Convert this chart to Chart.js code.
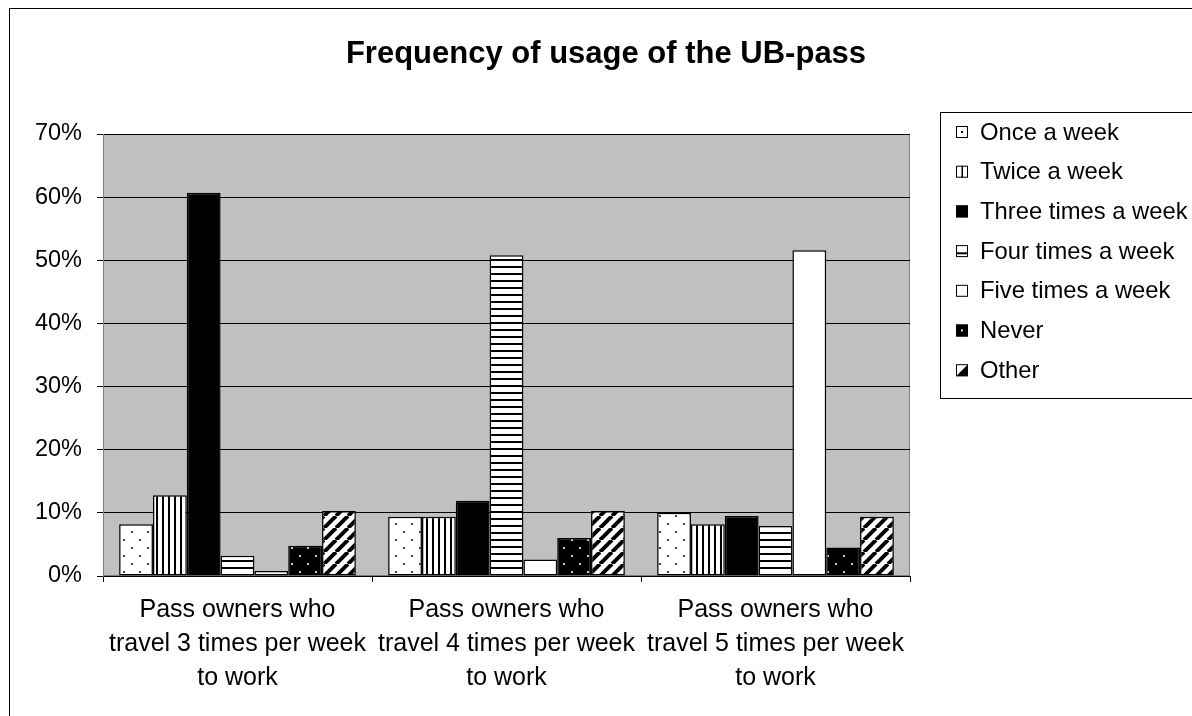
<!DOCTYPE html>
<html>
<head>
<meta charset="utf-8">
<title>Frequency of usage of the UB-pass</title>
<script src="https://cdn.jsdelivr.net/npm/chart.js@4.4.0/dist/chart.umd.min.js"></script>
<style>
  html, body { margin: 0; padding: 0; background: #fff; }
  canvas { display: block; }
</style>
</head>
<body>
<canvas id="usageChart" width="1192" height="716"></canvas>
<script>
// Chart data (percent of pass owners)
const chartTitle = 'Frequency of usage of the UB-pass';
const groups = [
    ['Pass owners who', 'travel 3 times per week', 'to work'],
    ['Pass owners who', 'travel 4 times per week', 'to work'],
    ['Pass owners who', 'travel 5 times per week', 'to work']
];
const seriesNames = ['Once a week', 'Twice a week', 'Three times a week', 'Four times a week', 'Five times a week', 'Never', 'Other'];
const onceAWeek = [8.2, 9.4, 10.0];
const twiceAWeek = [12.8, 9.4, 8.2];
const threeTimes = [60.7, 11.9, 9.5];
const fourTimes = [3.2, 50.8, 7.9];
const fiveTimes = [0.8, 2.6, 51.6];
const never = [4.8, 6.0, 4.5];
const other = [10.3, 10.3, 9.4];
const yMax = 70;
const yStep = 10;

const FONT = "'Liberation Sans', Arial, sans-serif";
const canvas = document.getElementById('usageChart');
const ctx = canvas.getContext('2d');

// --- hatch fills, black and white like an old office chart ---
function tile(w, h, paint) {
    const c = document.createElement('canvas');
    c.width = w;
    c.height = h;
    paint(c.getContext('2d'), w, h);
    return ctx.createPattern(c, 'repeat');
}

const fills = {
    dots: tile(16, 16, (g) => {
        g.fillStyle = '#fff'; g.fillRect(0, 0, 16, 16);
        g.fillStyle = '#444'; g.fillRect(3, 3, 2, 2); g.fillRect(11, 11, 2, 2);
    }),
    vlines: tile(6, 6, (g) => {
        g.fillStyle = '#fff'; g.fillRect(0, 0, 6, 6);
        g.fillStyle = '#000'; g.fillRect(0, 0, 2, 6);
    }),
    solid: '#000',
    hlines: tile(7, 7, (g) => {
        g.fillStyle = '#fff'; g.fillRect(0, 0, 7, 7);
        g.fillStyle = '#000'; g.fillRect(0, 0, 7, 2);
    }),
    blank: '#fff',
    darkdots: tile(16, 16, (g) => {
        g.fillStyle = '#000'; g.fillRect(0, 0, 16, 16);
        g.fillStyle = '#ccc'; g.fillRect(3, 3, 2, 2); g.fillRect(11, 11, 2, 2);
    }),
    diag: tile(12, 12, (g) => {
        g.fillStyle = '#fff'; g.fillRect(0, 0, 12, 12);
        g.strokeStyle = '#000'; g.lineWidth = 4;
        g.beginPath();
        for (const k of [-12, 0, 12]) {
            g.moveTo(k, 12);
            g.lineTo(k + 12, 0);
        }
        g.stroke();
    })
};
const kinds = ['dots', 'vlines', 'solid', 'hlines', 'blank', 'darkdots', 'diag'];
const seriesValues = [onceAWeek, twiceAWeek, threeTimes, fourTimes, fiveTimes, never, other];

// small legend swatches
function drawSwatch(g, kind, x, y, s) {
    g.save();
    g.lineWidth = 1;
    g.strokeStyle = '#000';
    g.fillStyle = (kind === 'solid' || kind === 'darkdots') ? '#000' : '#fff';
    g.fillRect(x, y, s, s);
    g.fillStyle = '#000';
    if (kind === 'dots') g.fillRect(x + s / 2 - 1, y + s / 2 - 1, 2, 2);
    if (kind === 'vlines') g.fillRect(x + s / 2 - 0.5, y, 1.5, s);
    if (kind === 'hlines') g.fillRect(x, y + s * 0.6, s, 2);
    if (kind === 'darkdots') { g.fillStyle = '#ddd'; g.fillRect(x + s / 2 - 1, y + s / 2 - 1, 2, 2); }
    if (kind === 'diag') {
        g.beginPath();
        g.moveTo(x + s, y); g.lineTo(x + s, y + s); g.lineTo(x, y + s);
        g.closePath(); g.fill();
    }
    g.strokeRect(x + 0.5, y + 0.5, s - 1, s - 1);
    g.restore();
}

const frame = {
    id: 'frame',
    beforeDraw(chart) {
        const { ctx: g, chartArea: a } = chart;
        g.save();
        g.fillStyle = '#fff';
        g.fillRect(0, 0, chart.width, chart.height);
        g.fillStyle = '#c0c0c0';
        g.fillRect(a.left, a.top, a.right - a.left, a.bottom - a.top);
        g.strokeStyle = '#808080';
        g.lineWidth = 1;
        g.strokeRect(a.left + 0.5, a.top + 0.5, a.right - a.left - 1, a.bottom - a.top - 1);
        // outer chart border
        g.strokeStyle = '#000';
        g.strokeRect(9.5, 8.5, 1300, 800);
        g.restore();
    },
    afterDraw(chart) {
        const g = chart.ctx;
        g.save();
        // title
        g.fillStyle = '#000';
        g.font = 'bold 31px ' + FONT;
        g.textAlign = 'center';
        g.textBaseline = 'alphabetic';
        g.fillText(chartTitle, 606, 63);
        // legend box
        g.strokeStyle = '#000';
        g.lineWidth = 1;
        g.strokeRect(940.5, 112.5, 300, 286);
        g.font = '23.8px ' + FONT;
        g.textAlign = 'left';
        g.textBaseline = 'middle';
        chart.data.datasets.forEach((ds, i) => {
            const cy = 132 + i * 39.7;
            drawSwatch(g, kinds[i], 956, cy - 6, 12);
            g.fillStyle = '#000';
            g.fillText(ds.label, 980, cy + 1);
        });
        g.restore();
    }
};

new Chart(ctx, {
    type: 'bar',
    data: {
        labels: groups,
        datasets: seriesNames.map((name, i) => ({
            label: name,
            data: seriesValues[i],
            backgroundColor: fills[kinds[i]],
            borderColor: '#000',
            borderWidth: 1.5,
            borderSkipped: false,
            categoryPercentage: 0.88,
            barPercentage: 1
        }))
    },
    options: {
        responsive: false,
        animation: false,
        devicePixelRatio: 1,
        layout: { padding: { top: 134, left: 10, right: 282, bottom: 0 } },
        plugins: {
            legend: { display: false },
            title: { display: false },
            tooltip: { enabled: false }
        },
        scales: {
            x: {
                grid: { drawOnChartArea: false, tickLength: 6, color: '#000', offset: true },
                border: { color: '#000' },
                ticks: {
                    color: '#000',
                    font: { family: FONT, size: 25, lineHeight: '34px' },
                    padding: 11,
                    maxRotation: 0,
                    autoSkip: false
                },
                afterFit: (s) => { s.height = 140; }
            },
            y: {
                min: 0,
                max: yMax,
                ticks: {
                    stepSize: yStep,
                    color: '#000',
                    font: { family: FONT, size: 23.5 },
                    padding: 15,
                    callback: (v) => v + '%'
                },
                grid: { color: '#000', tickLength: 6 },
                border: { color: '#808080' },
                afterFit: (s) => { s.width = 93; }
            }
        }
    },
    plugins: [frame]
});
</script>
</body>
</html>
